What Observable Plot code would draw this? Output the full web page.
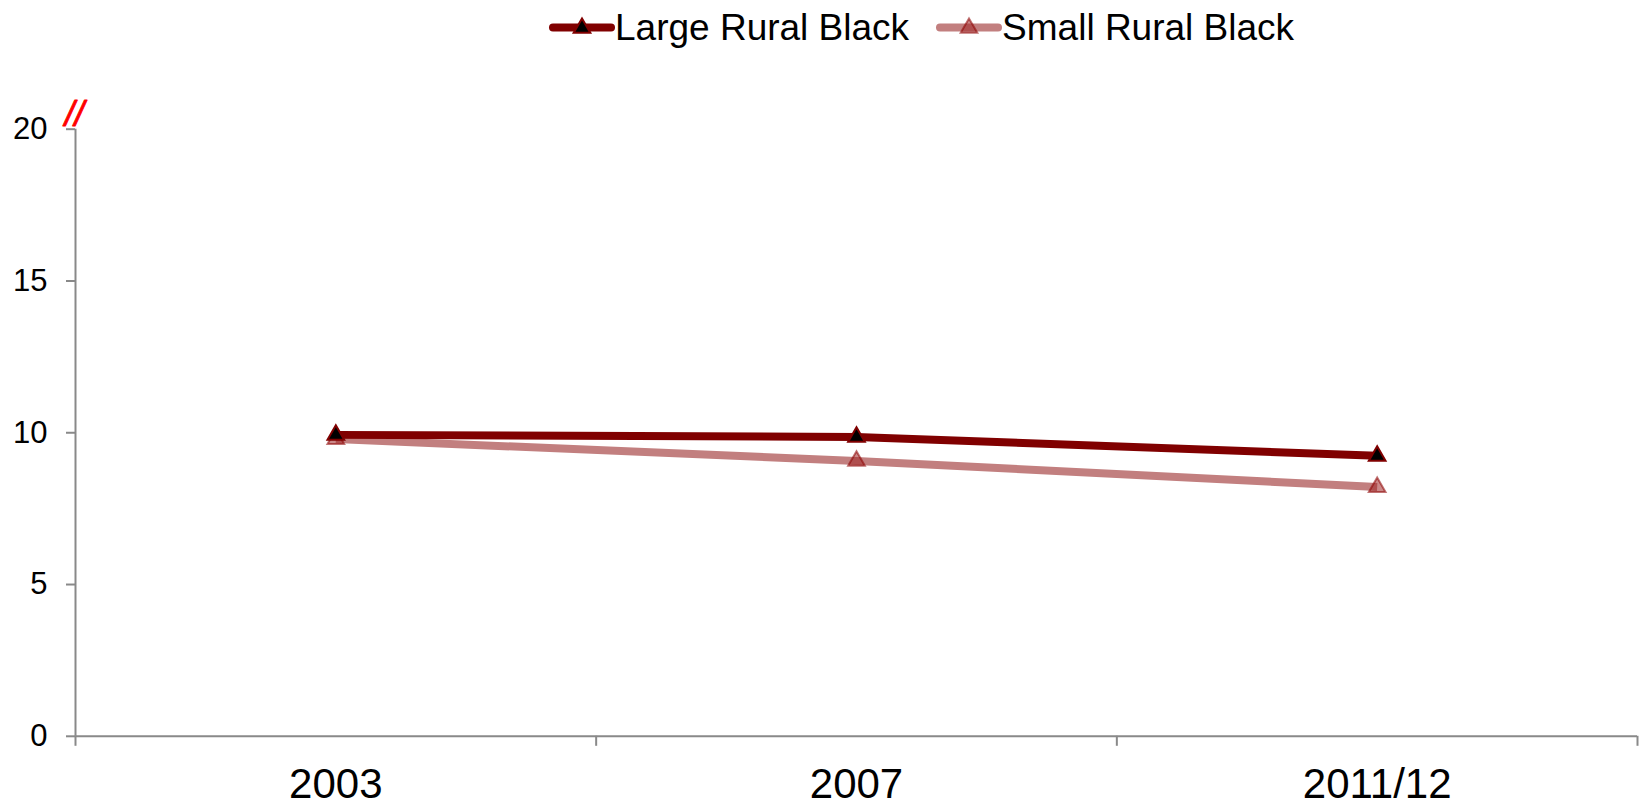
<!DOCTYPE html>
<html>
<head>
<meta charset="utf-8">
<script src="https://cdn.jsdelivr.net/npm/d3@7"></script>
<script src="https://cdn.jsdelivr.net/npm/@observablehq/plot@0.6"></script>
<style>
  html, body { margin: 0; padding: 0; background: #fff; }
  body { width: 1641px; height: 804px; overflow: hidden; font-family: "Liberation Sans", Arial, sans-serif; }
  #legend { position: relative; width: 1641px; height: 56px; }
  #legend .row { position: absolute; left: 548px; top: 8.5px; height: 37px; display: flex; align-items: center; }
  #legend .item { display: flex; align-items: center; }
  #legend .item + .item { margin-left: 26px; }
  #legend span { font-size: 37px; line-height: 37px; color: #000; white-space: nowrap; }
  #legend svg { display: block; }
</style>
</head>
<body>
<div id="legend"><div class="row"></div></div>
<div id="chart"></div>
<script>
// Survey waves on the x axis
const categories = ["2003", "2007", "2011/12"];
// Series values, one per wave
const largeRuralBlack = [9.93, 9.86, 9.24];
const smallRuralBlack = [9.79, 9.07, 8.21];
// Y axis ticks
const yTicks = [0, 5, 10, 15, 20];
const seriesNames = ["Large Rural Black", "Small Rural Black"];

const styles = {
  "Large Rural Black": {line: "#800000", dotFill: "#000000", dotStroke: "#800000"},
  "Small Rural Black": {line: "#c27f7f", dotFill: "rgba(160,40,40,0.55)", dotStroke: "rgba(140,0,0,0.55)"}
};

// Each wave sits in the middle of its slot; slot edges carry the tick marks
const toRows = (name, values) => values.map((v, i) => ({series: name, pos: i + 0.5, label: categories[i], value: v}));
const largeRows = toRows(seriesNames[0], largeRuralBlack);
const smallRows = toRows(seriesNames[1], smallRuralBlack);

const axisGray = "#898989";
const fontFamily = '"Liberation Sans", Arial, sans-serif';

// Legend
const row = document.querySelector("#legend .row");
seriesNames.forEach(name => {
  const s = styles[name];
  const item = document.createElement("div");
  item.className = "item";
  const sw = d3.create("svg").attr("width", 67).attr("height", 37);
  sw.append("line").attr("x1", 5).attr("x2", 63).attr("y1", 18.5).attr("y2", 18.5)
    .attr("stroke", s.line).attr("stroke-width", 8).attr("stroke-linecap", "round");
  sw.append("path").attr("d", d3.symbol(d3.symbolTriangle, 120)())
    .attr("transform", "translate(34,19)")
    .attr("fill", s.dotFill).attr("stroke", s.dotStroke).attr("stroke-width", 2);
  item.appendChild(sw.node());
  const label = document.createElement("span");
  label.textContent = name;
  item.appendChild(label);
  row.appendChild(item);
});

const chart = Plot.plot({
  width: 1641,
  height: 748,
  marginLeft: 75,
  marginRight: 4,
  marginTop: 72.7,
  marginBottom: 68.2,
  style: {fontFamily, background: "#fff", color: "#000", overflow: "visible"},
  x: {domain: [0, categories.length], axis: null},
  y: {domain: [0, 20], axis: null},
  marks: [
    // axis frame
    Plot.ruleX([0], {y1: 0, y2: 20, stroke: axisGray, strokeWidth: 2}),
    Plot.ruleY([0], {stroke: axisGray, strokeWidth: 2}),
    Plot.axisY({ticks: yTicks, tickSize: 9, tickPadding: 19, fontSize: 31, stroke: axisGray, fill: "#000", strokeWidth: 2, label: null}),
    Plot.axisX({ticks: d3.range(categories.length + 1), tickFormat: () => "", tickSize: 10, stroke: axisGray, strokeWidth: 2, label: null}),
    Plot.axisX({ticks: categories.map((_, i) => i + 0.5), tickFormat: v => categories[Math.floor(v)], tickSize: 0, tickPadding: 32, fontSize: 42, fill: "#000", label: null}),
    // axis break marker at the top of the y axis
    Plot.text([20], {x: 0, y: d => d, text: () => "//", fill: "#ff0000", stroke: "#ff0000", strokeWidth: 0.8, fontSize: 35, fontStyle: "italic", letterSpacing: "2.5px", dx: -1, dy: -14}),
    // series
    Plot.line(smallRows, {x: "pos", y: "value", stroke: styles[seriesNames[1]].line, strokeWidth: 8, strokeLinecap: "butt"}),
    Plot.dot(smallRows, {x: "pos", y: "value", symbol: "triangle", r: 6.2, fill: styles[seriesNames[1]].dotFill, stroke: styles[seriesNames[1]].dotStroke, strokeWidth: 2}),
    Plot.line(largeRows, {x: "pos", y: "value", stroke: styles[seriesNames[0]].line, strokeWidth: 8, strokeLinecap: "butt"}),
    Plot.dot(largeRows, {x: "pos", y: "value", symbol: "triangle", r: 6.2, fill: styles[seriesNames[0]].dotFill, stroke: styles[seriesNames[0]].dotStroke, strokeWidth: 2})
  ]
});
document.getElementById("chart").appendChild(chart);
</script>
</body>
</html>
